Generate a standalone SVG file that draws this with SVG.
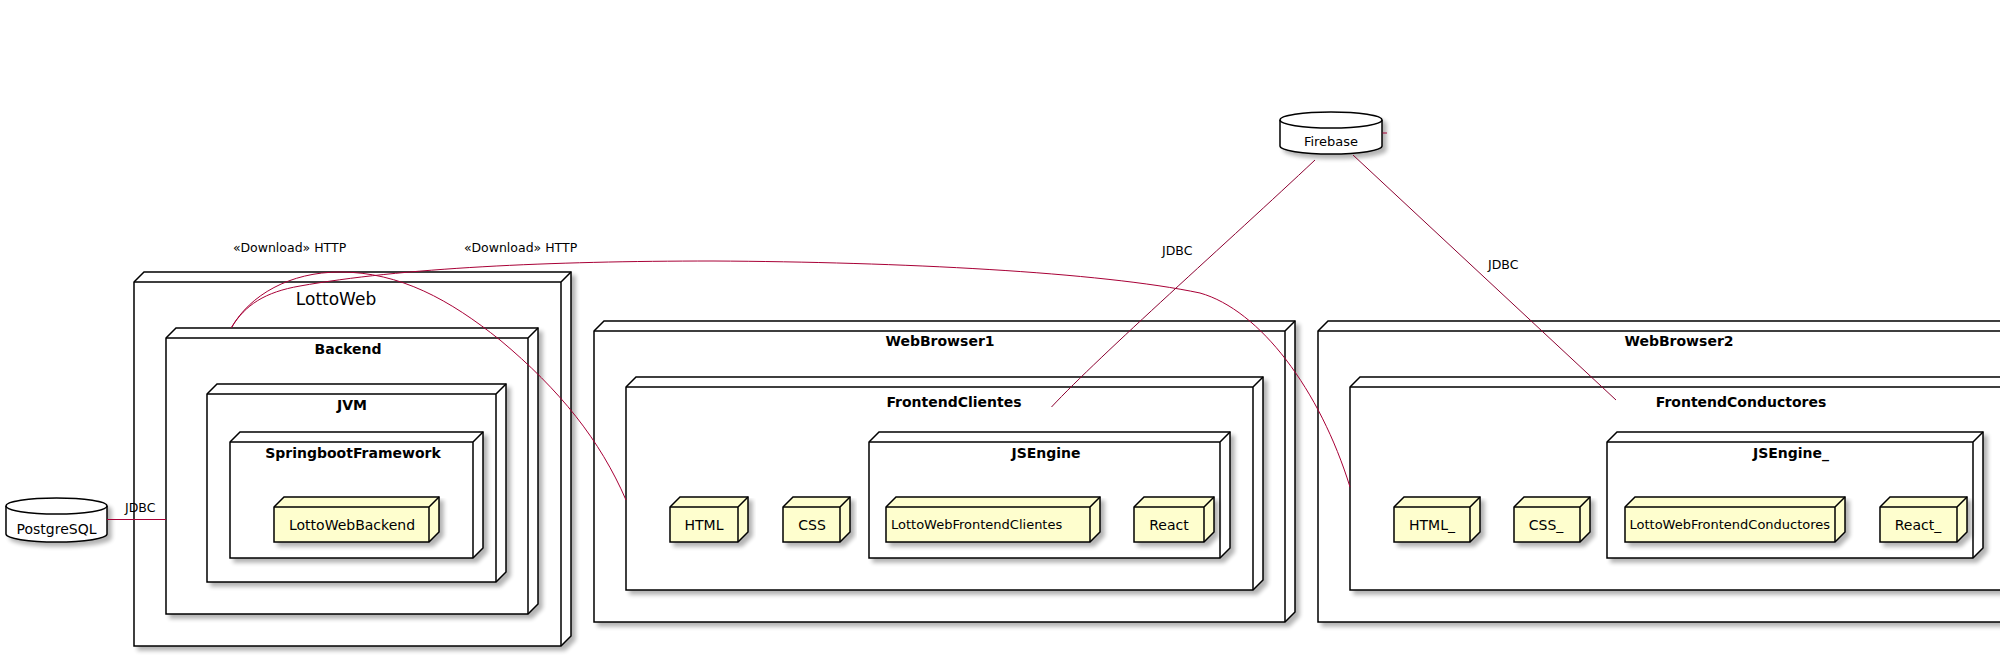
<svg xmlns="http://www.w3.org/2000/svg" width="2000" height="657" viewBox="0 0 2000 657">
<style>
.box{fill:#FFFFFF;stroke:#000;stroke-width:1.5;filter:url(#sh)}
.leaf{fill:#FEFECE;stroke:#000;stroke-width:1.5;filter:url(#sh)}
.ln{fill:none;stroke:#000;stroke-width:1.5}
.t{font-family:"DejaVu Sans",sans-serif;fill:#000}
.tb{font-family:"DejaVu Sans",sans-serif;font-weight:bold;font-size:14px;fill:#000;text-anchor:middle}
.tl{font-family:"DejaVu Sans",sans-serif;font-size:14px;fill:#000;text-anchor:middle}
.cl{font-family:"DejaVu Sans",sans-serif;font-size:12.5px;fill:#000}
.c{fill:none;stroke:#A80036;stroke-width:1}
.cd{fill:none;stroke:#8C0030;stroke-width:1}
</style>
<defs>
<filter id="sh" x="-5%" y="-5%" width="115%" height="130%">
<feGaussianBlur in="SourceAlpha" stdDeviation="2"/>
<feOffset dx="4" dy="4" result="o"/>
<feComponentTransfer><feFuncA type="linear" slope="0.3"/></feComponentTransfer>
<feMerge><feMergeNode/><feMergeNode in="SourceGraphic"/></feMerge>
</filter>
</defs>
<rect width="2000" height="657" fill="#FFFFFF"/>

<g id="LottoWeb">
<path class="box" d="M134,282 L144,272 L571,272 L571,636 L561,646 L134,646 Z"/>
<path class="ln" d="M134,282 L561,282 L571,272 M561,282 L561,646"/>
<text class="t" x="336" y="305" font-size="17" text-anchor="middle">LottoWeb</text>
</g>
<g id="Backend">
<path class="box" d="M166,338 L176,328 L538,328 L538,604 L528,614 L166,614 Z"/>
<path class="ln" d="M166,338 L528,338 L538,328 M528,338 L528,614"/>
<text class="tb" x="348" y="354">Backend</text>
</g>
<g id="JVM">
<path class="box" d="M207,394 L217,384 L506,384 L506,572 L496,582 L207,582 Z"/>
<path class="ln" d="M207,394 L496,394 L506,384 M496,394 L496,582"/>
<text class="tb" x="352" y="410">JVM</text>
</g>
<g id="SpringbootFramework">
<path class="box" d="M230,442 L240,432 L483,432 L483,548 L473,558 L230,558 Z"/>
<path class="ln" d="M230,442 L473,442 L483,432 M473,442 L473,558"/>
<text class="tb" x="353" y="458">SpringbootFramework</text>
</g>
<g id="LottoWebBackend">
<path class="leaf" d="M274,507 L284,497 L439,497 L439,532 L429,542 L274,542 Z"/>
<path class="ln" d="M274,507 L429,507 L439,497 M429,507 L429,542"/>
<text class="tl" x="352" y="530">LottoWebBackend</text>
</g>

<g id="WebBrowser1">
<path class="box" d="M594,331 L604,321 L1295,321 L1295,612 L1285,622 L594,622 Z"/>
<path class="ln" d="M594,331 L1285,331 L1295,321 M1285,331 L1285,622"/>
<text class="tb" x="940" y="346">WebBrowser1</text>
</g>
<g id="FrontendClientes">
<path class="box" d="M626,387 L636,377 L1263,377 L1263,580 L1253,590 L626,590 Z"/>
<path class="ln" d="M626,387 L1253,387 L1263,377 M1253,387 L1253,590"/>
<text class="tb" x="954" y="407">FrontendClientes</text>
</g>
<g id="JSEngine">
<path class="box" d="M869,442 L879,432 L1230,432 L1230,548 L1220,558 L869,558 Z"/>
<path class="ln" d="M869,442 L1220,442 L1230,432 M1220,442 L1220,558"/>
<text class="tb" x="1046" y="458">JSEngine</text>
</g>
<g id="HTML">
<path class="leaf" d="M670,507 L680,497 L748,497 L748,532 L738,542 L670,542 Z"/>
<path class="ln" d="M670,507 L738,507 L748,497 M738,507 L738,542"/>
<text class="tl" x="704" y="529.5">HTML</text>
</g>
<g id="CSS">
<path class="leaf" d="M783,507 L793,497 L850,497 L850,532 L840,542 L783,542 Z"/>
<path class="ln" d="M783,507 L840,507 L850,497 M840,507 L840,542"/>
<text class="tl" x="812" y="529.5">CSS</text>
</g>
<g id="LottoWebFrontendClientes">
<path class="leaf" d="M886,507 L896,497 L1100,497 L1100,532 L1090,542 L886,542 Z"/>
<path class="ln" d="M886,507 L1090,507 L1100,497 M1090,507 L1090,542"/>
<text class="t" x="891" y="528.5" font-size="13">LottoWebFrontendClientes</text>
</g>
<g id="React">
<path class="leaf" d="M1134,507 L1144,497 L1214,497 L1214,532 L1204,542 L1134,542 Z"/>
<path class="ln" d="M1134,507 L1204,507 L1214,497 M1204,507 L1204,542"/>
<text class="tl" x="1169" y="529.5">React</text>
</g>

<g id="WebBrowser2">
<path class="box" d="M1318,331 L1328,321 L2047,321 L2047,612 L2037,622 L1318,622 Z"/>
<path class="ln" d="M1318,331 L2037,331 L2047,321 M2037,331 L2037,622"/>
<text class="tb" x="1679" y="346">WebBrowser2</text>
</g>
<g id="FrontendConductores">
<path class="box" d="M1350,387 L1360,377 L2015,377 L2015,580 L2005,590 L1350,590 Z"/>
<path class="ln" d="M1350,387 L2005,387 L2015,377 M2005,387 L2005,590"/>
<text class="tb" x="1741" y="407">FrontendConductores</text>
</g>
<g id="JSEngine_">
<path class="box" d="M1607,442 L1617,432 L1983,432 L1983,548 L1973,558 L1607,558 Z"/>
<path class="ln" d="M1607,442 L1973,442 L1983,432 M1973,442 L1973,558"/>
<text class="tb" x="1791" y="458">JSEngine_</text>
</g>
<g id="HTML_">
<path class="leaf" d="M1394,507 L1404,497 L1480,497 L1480,532 L1470,542 L1394,542 Z"/>
<path class="ln" d="M1394,507 L1470,507 L1480,497 M1470,507 L1470,542"/>
<text class="tl" x="1432" y="529.5">HTML_</text>
</g>
<g id="CSS_">
<path class="leaf" d="M1514,507 L1524,497 L1590,497 L1590,532 L1580,542 L1514,542 Z"/>
<path class="ln" d="M1514,507 L1580,507 L1590,497 M1580,507 L1580,542"/>
<text class="tl" x="1546" y="529.5">CSS_</text>
</g>
<g id="LottoWebFrontendConductores">
<path class="leaf" d="M1625,507 L1635,497 L1845,497 L1845,532 L1835,542 L1625,542 Z"/>
<path class="ln" d="M1625,507 L1835,507 L1845,497 M1835,507 L1835,542"/>
<text class="t" x="1629.5" y="528.5" font-size="13">LottoWebFrontendConductores</text>
</g>
<g id="React_">
<path class="leaf" d="M1880,507 L1890,497 L1967,497 L1967,532 L1957,542 L1880,542 Z"/>
<path class="ln" d="M1880,507 L1957,507 L1967,497 M1957,507 L1957,542"/>
<text class="tl" x="1918" y="529.5">React_</text>
</g>

<g id="PostgreSQL">
<path class="box" d="M6,506 A50.5,8 0 0 1 107,506 L107,534 A50.5,8 0 0 1 6,534 Z"/>
<path class="ln" d="M6,506 A50.5,8 0 0 0 107,506"/>
<text class="tl" x="56.5" y="534">PostgreSQL</text>
</g>
<g id="Firebase">
<path class="box" d="M1280,120 A51,8 0 0 1 1382,120 L1382,146 A51,8 0 0 1 1280,146 Z"/>
<path class="ln" d="M1280,120 A51,8 0 0 0 1382,120"/>
<text class="t" x="1331" y="146" font-size="13" text-anchor="middle">Firebase</text>
</g>

<g id="connectors">
<path class="c" d="M107,519.5 L166,519.5"/>
<text class="cl" x="125" y="512">JDBC</text>
<path class="c" d="M231.5,327.5 C250,295 290,272 340,272 C400,272 450,300 500,340 C560,390 600,440 626,500"/>
<text class="cl" x="233" y="252">«Download» HTTP</text>
<path class="c" d="M231.5,327.5 C245,305 265,292 300,286 C400,268 550,261 713,261 C900,262 1100,272 1200,293 C1260,310 1320,390 1350,487"/>
<text class="cl" x="464" y="252">«Download» HTTP</text>
<path class="cd" d="M1315,160 C1230,240 1100,355 1051.5,407"/>
<text class="cl" x="1162" y="255">JDBC</text>
<path class="cd" d="M1353,155 L1616,400"/>
<text class="cl" x="1488" y="269">JDBC</text>
<path class="c" d="M1382.5,133 L1387,133"/>
</g>
</svg>
